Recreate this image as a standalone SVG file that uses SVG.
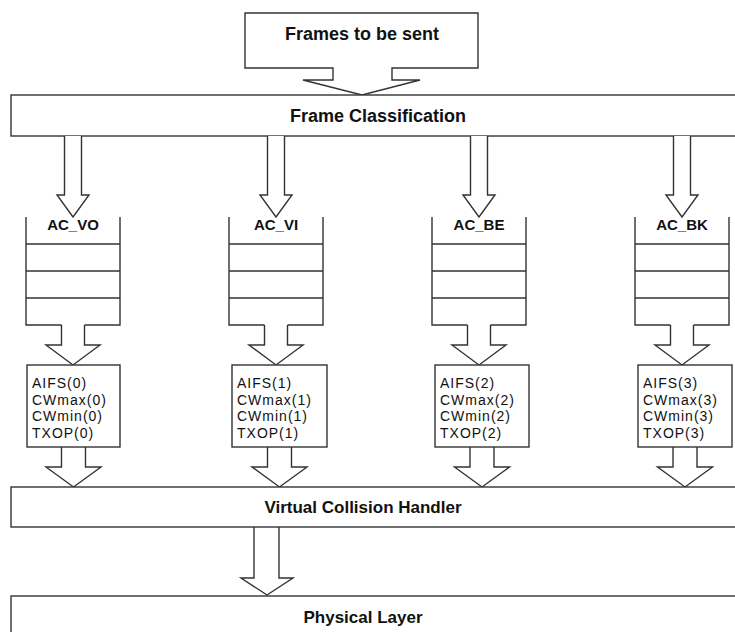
<svg xmlns="http://www.w3.org/2000/svg" width="735" height="632" viewBox="0 0 735 632">
<style>
.s{fill:#fff;stroke:#333;stroke-width:1.4}
.ln{fill:none;stroke:#333;stroke-width:1.4}
.b{font-family:"Liberation Sans",Arial,sans-serif;font-weight:bold;fill:#111;text-anchor:middle}
.p{font-family:"Liberation Sans",Arial,sans-serif;font-size:14px;letter-spacing:1px;fill:#111}
</style>
<rect width="735" height="632" fill="#fff"/>
<g id="frames">
<path class="s" d="M245,13 H478 V68 H392 V80 H420 L362,95 L303,80 H333 V68 H245 Z"/>
<text class="b" x="362" y="40" font-size="18">Frames to be sent</text>
</g>
<g id="classification">
<rect class="s" x="11" y="95" width="740" height="41"/>
<text class="b" x="378" y="122" font-size="18">Frame Classification</text>
</g>
<g id="connectors">
<path class="s" d="M64.5,136 V195 H57 L73,217 L89,195 H81.5 V136"/>
<path class="s" d="M267.5,136 V195 H260 L276,217 L292,195 H284.5 V136"/>
<path class="s" d="M470.5,136 V195 H463 L479,217 L495,195 H487.5 V136"/>
<path class="s" d="M673.5,136 V195 H666 L682,217 L698,195 H690.5 V136"/>
<path class="s" d="M61.5,325 V345 H46 L73,365 L100,345 H84.5 V325"/>
<path class="s" d="M264.5,325 V345 H249 L276,365 L303,345 H287.5 V325"/>
<path class="s" d="M467.5,325 V345 H452 L479,365 L506,345 H490.5 V325"/>
<path class="s" d="M670.5,325 V345 H655 L682,365 L709,345 H693.5 V325"/>
<path class="s" d="M61.5,447 V467 H46 L73.5,487 L101,467 H85.5 V447"/>
<path class="s" d="M267.5,447 V467 H252 L279.5,487 L307,467 H291.5 V447"/>
<path class="s" d="M470,447 V467 H454.5 L482,487 L509.5,467 H494 V447"/>
<path class="s" d="M673,447 V467 H657.5 L685,487 L712.5,467 H697 V447"/>
<path class="s" d="M254,527 V578 H241 L267,595 L293,578 H279 V527"/>
</g>
<g id="ac_vo">
<path class="ln" d="M26,217 V325 H61.5 M84.5,325 H120 V217 M26,244 H120 M26,271 H120 M26,298 H120"/>
<text class="b" x="73" y="230" font-size="15">AC_VO</text>
</g>
<g id="ac_vi">
<path class="ln" d="M229,217 V325 H264.5 M287.5,325 H323 V217 M229,244 H323 M229,271 H323 M229,298 H323"/>
<text class="b" x="276" y="230" font-size="15">AC_VI</text>
</g>
<g id="ac_be">
<path class="ln" d="M432,217 V325 H467.5 M490.5,325 H526 V217 M432,244 H526 M432,271 H526 M432,298 H526"/>
<text class="b" x="479" y="230" font-size="15">AC_BE</text>
</g>
<g id="ac_bk">
<path class="ln" d="M635,217 V325 H670.5 M693.5,325 H729 V217 M635,244 H729 M635,271 H729 M635,298 H729"/>
<text class="b" x="682" y="230" font-size="15">AC_BK</text>
</g>
<g id="param0">
<rect class="s" x="27" y="365" width="93" height="82"/>
<text class="p" x="32" y="388">AIFS(0)</text>
<text class="p" x="32" y="404.5">CWmax(0)</text>
<text class="p" x="32" y="421">CWmin(0)</text>
<text class="p" x="32" y="437.5">TXOP(0)</text>
</g>
<g id="param1">
<rect class="s" x="232" y="365" width="95" height="82"/>
<text class="p" x="237" y="388">AIFS(1)</text>
<text class="p" x="237" y="404.5">CWmax(1)</text>
<text class="p" x="237" y="421">CWmin(1)</text>
<text class="p" x="237" y="437.5">TXOP(1)</text>
</g>
<g id="param2">
<rect class="s" x="435" y="365" width="94" height="82"/>
<text class="p" x="440" y="388">AIFS(2)</text>
<text class="p" x="440" y="404.5">CWmax(2)</text>
<text class="p" x="440" y="421">CWmin(2)</text>
<text class="p" x="440" y="437.5">TXOP(2)</text>
</g>
<g id="param3">
<rect class="s" x="638" y="365" width="94" height="82"/>
<text class="p" x="643" y="388">AIFS(3)</text>
<text class="p" x="643" y="404.5">CWmax(3)</text>
<text class="p" x="643" y="421">CWmin(3)</text>
<text class="p" x="643" y="437.5">TXOP(3)</text>
</g>
<g id="vch">
<rect class="s" x="11" y="487" width="740" height="40"/>
<text class="b" x="363" y="513" font-size="17">Virtual Collision Handler</text>
</g>
<g id="phy">
<rect class="s" x="11" y="596" width="740" height="50"/>
<text class="b" x="363" y="623" font-size="17">Physical Layer</text>
</g>
</svg>
